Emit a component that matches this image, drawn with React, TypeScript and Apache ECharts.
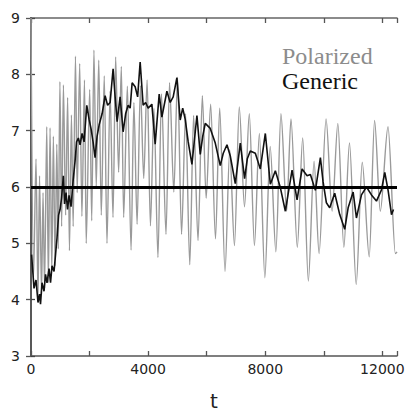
import React, { useEffect, useRef } from "react";
import * as echarts from "echarts";

// Polarized (gray) turning points: time and value
const polarizedT = [
  0, 86, 171, 240, 291, 360, 411, 463, 538, 593, 651, 710, 764, 823, 881, 932, 987, 1046, 1107, 1183,
  1251, 1313, 1381, 1440, 1519, 1577, 1663, 1738, 1827, 1885, 2005, 2074, 2149, 2228, 2314, 2400, 2502,
  2595, 2701, 2801, 2890, 2993, 3085, 3164, 3291, 3418, 3514, 3623, 3737, 3850, 3966, 4079, 4199, 4336,
  4456, 4611, 4731, 4878, 5005, 5142, 5279, 5423, 5553, 5704, 5852, 5982, 6136, 6301, 6445, 6626, 6787,
  6949, 7113, 7292, 7456, 7631, 7799, 7987, 8169, 8364, 8536, 8731, 8879, 9095, 9280, 9472, 9667, 9838,
  10078, 10284, 10480, 10685, 10877, 11107, 11312, 11552, 11734, 11929, 12193, 12444, 12500,
];
const polarizedV = [
  9.0, 4.4, 6.5, 4.0, 6.2, 4.1, 5.9, 4.2, 7.07, 4.3, 7.05, 4.5, 6.9, 4.6, 6.76, 4.9, 7.87, 5.3, 7.81, 5.5,
  7.59, 4.87, 7.28, 5.3, 8.32, 5.9, 8.19, 5.48, 7.9, 5.0, 7.73, 5.4, 8.43, 6.0, 8.25, 5.5, 7.97,
  5.0, 7.7, 5.46, 8.31, 6.26, 8.14, 5.46, 7.79, 4.88, 7.5, 5.34, 7.8, 6.15, 7.9, 5.31, 7.4, 4.75,
  7.65, 5.16, 7.85, 5.91, 7.95, 5.16, 7.3, 4.62, 7.27, 5.05, 7.62, 5.8, 7.47, 5.08, 7.4, 4.5, 6.66,
  4.96, 7.42, 5.65, 7.3, 4.96, 6.95, 4.39, 6.72, 4.85, 7.3, 5.57, 7.21, 4.93, 6.87, 4.33, 6.46, 4.82,
  7.21, 5.57, 7.13, 4.93, 6.78, 4.27, 6.44, 4.76, 7.18, 5.57, 7.07, 4.82, 4.85,
];

// Generic (black) readings: time and value
const genericT = [
  20, 103, 171, 239, 291, 325, 376, 445, 496, 547, 616, 667, 718, 787, 838, 889, 941, 992, 1043, 1105,
  1146, 1197, 1248, 1300, 1368, 1436, 1505, 1556, 1618, 1676, 1744, 1813, 1905, 1984, 2052, 2120, 2189,
  2257, 2326, 2428, 2531, 2616, 2702, 2804, 2873, 2941, 3044, 3146, 3232, 3317, 3386, 3454, 3557, 3642,
  3728, 3830, 3916, 4001, 4128, 4241, 4378, 4470, 4641, 4754, 4856, 4983, 5096, 5181, 5267, 5369, 5496,
  5667, 5780, 5865, 5951, 6122, 6293, 6464, 6566, 6693, 6806, 6977, 7148, 7295, 7387, 7490, 7661, 7832,
  8003, 8174, 8345, 8516, 8687, 8789, 8916, 9087, 9258, 9429, 9542, 9713, 9884, 9976, 10089, 10202,
  10373, 10544, 10715, 10831, 11002, 11115, 11286, 11457, 11628, 11799, 11970, 12083, 12199, 12312, 12380,
];
const genericV = [
  4.8, 4.2, 4.35, 3.95, 4.1, 3.92, 4.3, 4.15, 4.45, 4.3, 4.55, 4.3, 4.6, 4.5, 4.8, 5.1, 5.5, 5.6, 5.8, 6.2,
  5.7, 5.9, 5.6, 5.85, 5.65, 6.1, 6.46, 6.8, 6.87, 6.75, 6.95, 6.8, 7.45, 7.2, 7.03, 6.8, 6.52,
  6.9, 7.1, 7.3, 7.62, 7.45, 7.5, 8.1, 7.6, 7.16, 7.6, 6.98, 7.3, 7.45, 7.4, 7.85, 7.78, 7.6,
  8.22, 7.45, 7.5, 7.4, 7.47, 6.76, 7.65, 7.24, 7.7, 7.5, 7.6, 7.94, 7.19, 7.4, 7.2, 6.8, 6.4,
  7.27, 6.58, 6.9, 7.13, 7.04, 6.78, 6.38, 6.6, 6.75, 6.55, 6.06, 6.78, 6.15, 6.5, 6.64, 6.6, 6.32,
  6.95, 6.05, 6.29, 5.99, 5.57, 5.9, 6.3, 5.77, 6.32, 6.2, 6.22, 5.94, 6.52, 6.09, 5.72, 5.63,
  5.89, 5.51, 5.25, 5.63, 5.91, 5.45, 5.86, 6.0, 5.86, 5.75, 5.95, 6.26, 5.93, 5.51, 5.6,
];

const referenceLevel = 6;
const xLabelValues = [0, 4000, 8000, 12000];
const legendNames = ["Polarized", "Generic"];

export default function App() {
  const ref = useRef<HTMLDivElement>(null);

  useEffect(() => {
    if (!ref.current) return;
    const chart = echarts.init(ref.current, undefined, { renderer: "svg" });
    const pol = polarizedT.map((t, i) => [t, polarizedV[i]]);
    const gen = genericT.map((t, i) => [t, genericV[i]]);
    const tickStyle = { inside: true, length: 5, lineStyle: { color: "#555", width: 1.3 } };
    const legendText = { fontFamily: "serif", fontSize: 24, lineHeight: 23, padding: 0 };
    chart.setOption({
      animation: false,
      backgroundColor: "#fff",
      grid: { left: 31, right: 13, top: 18, bottom: 51 },
      legend: {
        orient: "vertical",
        left: 272,
        top: 39,
        itemGap: 1,
        itemWidth: 0,
        itemHeight: 0,
        icon: "rect",
        selectedMode: false,
        data: [
          { name: legendNames[0], textStyle: { ...legendText, color: "#8c8c8c" } },
          { name: legendNames[1], textStyle: { ...legendText, color: "#111" } },
        ],
        textStyle: legendText,
      },
      xAxis: [
        {
          type: "value",
          min: 0,
          max: 12500,
          interval: 2000,
          name: "t",
          nameLocation: "middle",
          nameGap: 35,
          nameTextStyle: { fontFamily: "DejaVu Sans", fontSize: 20, color: "#222" },
          axisLine: { lineStyle: { color: "#555", width: 1.5 } },
          axisTick: tickStyle,
          splitLine: { show: false },
          axisLabel: {
            margin: 6,
            fontFamily: "DejaVu Sans",
            fontSize: 14,
            color: "#222",
            formatter: (v: number) => (xLabelValues.includes(v) ? String(v) : ""),
          },
        },
        {
          type: "value",
          position: "top",
          min: 0,
          max: 12500,
          interval: 2000,
          axisLine: { show: true, lineStyle: { color: "#666", width: 1.5 } },
          axisTick: tickStyle,
          axisLabel: { show: false },
          splitLine: { show: false },
        },
      ],
      yAxis: [
        {
          type: "value",
          min: 3,
          max: 9,
          interval: 1,
          axisLine: { show: true, lineStyle: { color: "#333", width: 2 } },
          axisTick: { inside: true, length: 4, lineStyle: { color: "#444", width: 1.3 } },
          splitLine: { show: false },
          axisLabel: { margin: 11, fontFamily: "DejaVu Sans", fontSize: 14, color: "#222" },
        },
        {
          type: "value",
          position: "right",
          min: 3,
          max: 9,
          interval: 1,
          axisLine: { show: true, lineStyle: { color: "#666", width: 1.5 } },
          axisTick: { inside: true, length: 5, lineStyle: { color: "#555", width: 1.3 } },
          axisLabel: { show: false },
          splitLine: { show: false },
        },
      ],
      series: [
        {
          name: legendNames[0],
          type: "line",
          data: pol,
          showSymbol: false,
          smooth: 0.3,
          smoothMonotone: "x",
          lineStyle: { color: "#9a9a9a", width: 1.4 },
          z: 2,
        },
        {
          name: legendNames[1],
          type: "line",
          data: gen,
          showSymbol: false,
          lineStyle: { color: "#111", width: 1.6 },
          z: 3,
          markLine: {
            silent: true,
            symbol: "none",
            label: { show: false },
            lineStyle: { color: "#000", width: 3, type: "solid" },
            data: [{ yAxis: referenceLevel }],
            z: 5,
          },
        },
      ],
    });
    return () => chart.dispose();
  }, []);

  return (
    <div
      ref={ref}
      style={{ position: "fixed", left: 0, top: 0, width: 410, height: 416, background: "#fff" }}
    />
  );
}
